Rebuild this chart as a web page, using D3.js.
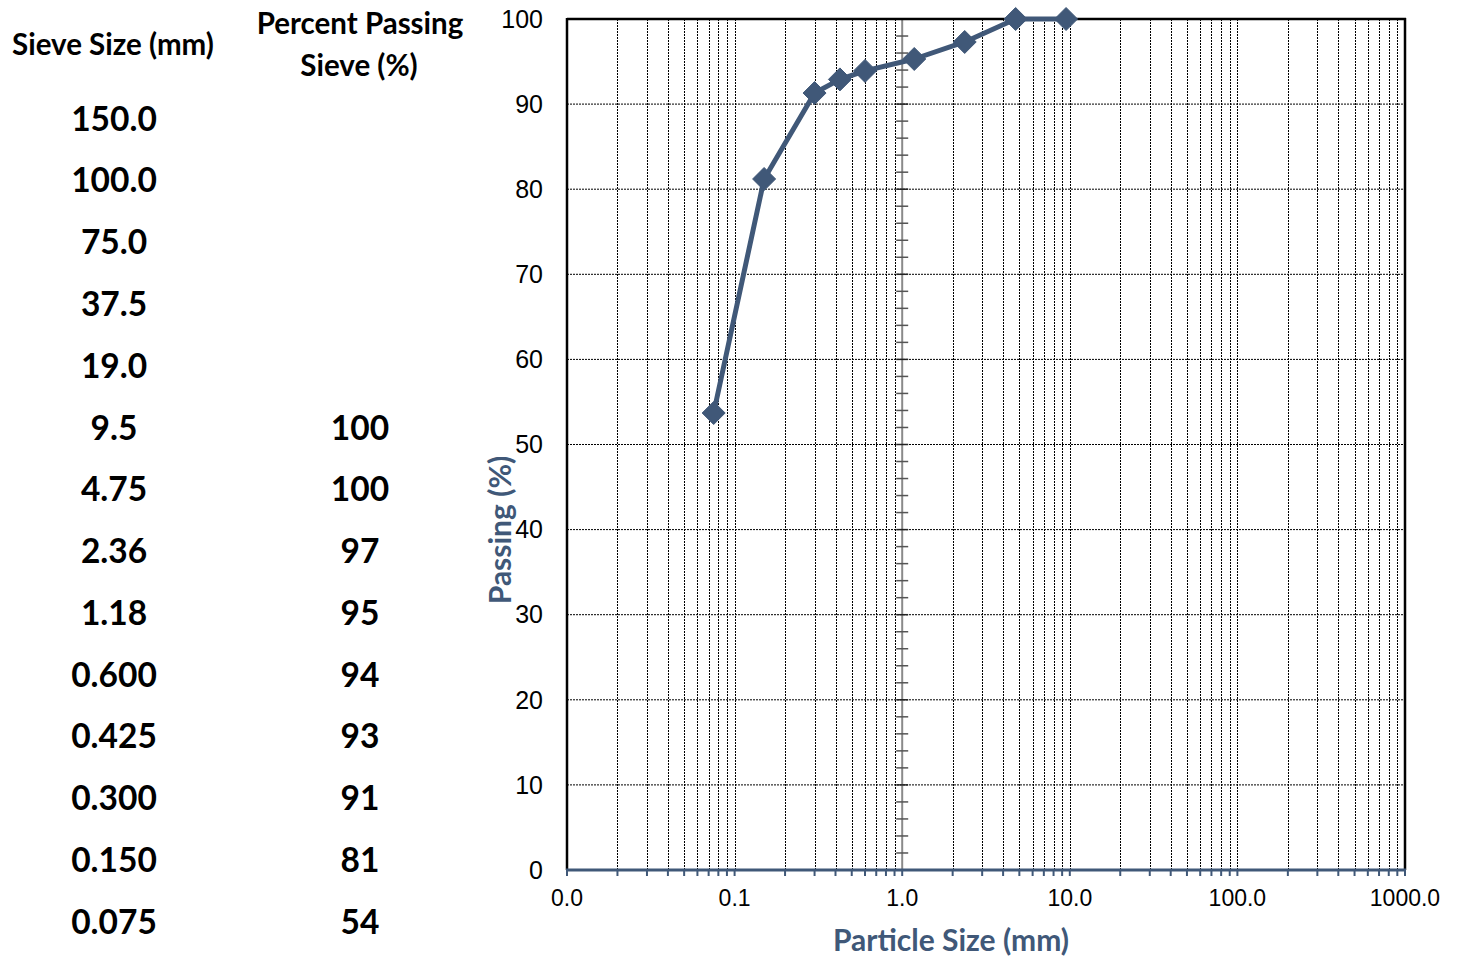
<!DOCTYPE html>
<html>
<head>
<meta charset="utf-8">
<script src="https://cdn.jsdelivr.net/npm/d3@7"></script>
<style>
  body { margin: 0; background: #fff; }
  svg { display: block; }
</style>
</head>
<body>
<div id="drawing"></div>
<script>
// sieve table
var sieveLabels = ["150.0", "100.0", "75.0", "37.5", "19.0", "9.5", "4.75", "2.36", "1.18", "0.600", "0.425", "0.300", "0.150", "0.075"];
var passingLabels = ["", "", "", "", "", "100", "100", "97", "95", "94", "93", "91", "81", "54"];

// plotted gradation curve
var sieveSizes = [9.5, 4.75, 2.36, 1.18, 0.6, 0.425, 0.3, 0.15, 0.075];
var percentPassing = [100, 100, 97.3, 95.3, 93.9, 92.9, 91.3, 81.2, 53.7];

var xTickValues = [0.01, 0.1, 1, 10, 100, 1000];
var xTickLabels = ["0.0", "0.1", "1.0", "10.0", "100.0", "1000.0"];
var yTickValues = [0, 10, 20, 30, 40, 50, 60, 70, 80, 90, 100];

var width = 1462;
var height = 959;
var plot = {left: 567, right: 1405, top: 19, bottom: 870};
var slate = "#405878";

var svg = d3.select("#drawing").append("svg")
  .attr("width", width)
  .attr("height", height);

var xScale = d3.scaleLog()
  .domain([0.01, 1000])
  .range([plot.left, plot.right]);

var yScale = d3.scaleLinear()
  .domain([0, 100])
  .range([plot.bottom, plot.top]);

// minor log positions 2..9 for each decade, plus the decades
var logLines = [];
for (var d = -2; d < 3; d++) {
  for (var m = 1; m < 10; m++) {
    logLines.push(m * Math.pow(10, d));
  }
}
var innerLogLines = logLines.filter(function(v) { return v > 0.0100001; });

// ---- table on the left
var tableFont = "Lato, 'Open Sans', sans-serif";
var table = svg.append("g").attr("font-family", tableFont).attr("font-weight", "bold").attr("fill", "#000");

table.append("text")
  .attr("x", 113).attr("y", 45).attr("dy", "0.35em")
  .attr("text-anchor", "middle").attr("font-size", 29.5)
  .text("Sieve Size (mm)");
table.append("text")
  .attr("x", 360).attr("y", 24).attr("dy", "0.35em")
  .attr("text-anchor", "middle").attr("font-size", 29.5)
  .text("Percent Passing");
table.append("text")
  .attr("x", 359).attr("y", 66).attr("dy", "0.35em")
  .attr("text-anchor", "middle").attr("font-size", 29.5)
  .text("Sieve (%)");

var rowY = d3.scalePoint()
  .domain(d3.range(sieveLabels.length))
  .range([119, 922]);

table.selectAll(".sieve")
  .data(sieveLabels)
  .enter().append("text")
  .attr("class", "sieve")
  .attr("x", 114)
  .attr("y", function(d, i) { return rowY(i); })
  .attr("dy", "0.35em")
  .attr("text-anchor", "middle")
  .attr("font-size", 33.5)
  .text(function(d) { return d; });

table.selectAll(".pass")
  .data(passingLabels)
  .enter().append("text")
  .attr("class", "pass")
  .attr("x", 360)
  .attr("y", function(d, i) { return rowY(i); })
  .attr("dy", "0.35em")
  .attr("text-anchor", "middle")
  .attr("font-size", 33.5)
  .text(function(d) { return d; });

// ---- grid
var grid = svg.append("g");
grid.selectAll(".hgrid")
  .data(yTickValues.filter(function(v) { return v > 0 && v < 100; }))
  .enter().append("line")
  .attr("x1", plot.left).attr("x2", plot.right)
  .attr("y1", function(d) { return yScale(d); })
  .attr("y2", function(d) { return yScale(d); })
  .attr("stroke", "#000")
  .attr("stroke-width", 1)
  .attr("stroke-dasharray", "2,1");

grid.selectAll(".vgrid")
  .data(innerLogLines)
  .enter().append("line")
  .attr("x1", function(d) { return Math.round(xScale(d)) + 0.5; })
  .attr("x2", function(d) { return Math.round(xScale(d)) + 0.5; })
  .attr("y1", plot.top).attr("y2", plot.bottom)
  .attr("stroke", "#000")
  .attr("stroke-width", 1)
  .attr("stroke-dasharray", "2,1");

// vertical axis crossing at 1.0
var yAxisX = xScale(1);
var yAxisG = svg.append("g");
yAxisG.append("line")
  .attr("x1", yAxisX).attr("x2", yAxisX)
  .attr("y1", plot.top).attr("y2", plot.bottom)
  .attr("stroke", "#8a8a8a").attr("stroke-width", 2);
yAxisG.selectAll(".minor")
  .data(d3.range(0, 101, 2))
  .enter().append("line")
  .attr("x1", yAxisX - 6).attr("x2", yAxisX + 6)
  .attr("y1", function(d) { return yScale(d); })
  .attr("y2", function(d) { return yScale(d); })
  .attr("stroke", function(d) { return d % 10 === 0 ? "#222" : "#555"; })
  .attr("stroke-width", 1.5);

// ---- frame
svg.append("line")
  .attr("x1", plot.left).attr("x2", plot.left)
  .attr("y1", plot.top - 1).attr("y2", plot.bottom)
  .attr("stroke", "#000").attr("stroke-width", 2.5);
svg.append("line")
  .attr("x1", plot.left).attr("x2", plot.right + 1)
  .attr("y1", plot.top).attr("y2", plot.top)
  .attr("stroke", "#000").attr("stroke-width", 2.5);
svg.append("line")
  .attr("x1", plot.right).attr("x2", plot.right)
  .attr("y1", plot.top - 1).attr("y2", plot.bottom)
  .attr("stroke", "#000").attr("stroke-width", 2.5);

// x axis (bottom)
var xAxisG = svg.append("g");
xAxisG.selectAll(".xtick")
  .data(logLines.concat([1000]))
  .enter().append("line")
  .attr("x1", function(d) { return xScale(d); })
  .attr("x2", function(d) { return xScale(d); })
  .attr("y1", plot.bottom).attr("y2", plot.bottom + 6)
  .attr("stroke", slate).attr("stroke-width", 2);
xAxisG.append("line")
  .attr("x1", plot.left - 1).attr("x2", plot.right + 1)
  .attr("y1", plot.bottom).attr("y2", plot.bottom)
  .attr("stroke", slate).attr("stroke-width", 3);

var tickFont = "'Liberation Sans', Arial, sans-serif";
xAxisG.selectAll(".xlab")
  .data(xTickValues)
  .enter().append("text")
  .attr("x", function(d) { return xScale(d); })
  .attr("y", 898)
  .attr("dy", "0.35em")
  .attr("text-anchor", "middle")
  .attr("font-family", tickFont)
  .attr("font-size", 23)
  .attr("fill", "#000")
  .text(function(d, i) { return xTickLabels[i]; });

svg.selectAll(".ylab")
  .data(yTickValues)
  .enter().append("text")
  .attr("x", 543)
  .attr("y", function(d) { return yScale(d); })
  .attr("dy", "0.35em")
  .attr("text-anchor", "end")
  .attr("font-family", tickFont)
  .attr("font-size", 25)
  .attr("fill", "#000")
  .text(function(d) { return d; });

// axis titles
svg.append("text")
  .attr("x", 951).attr("y", 940).attr("dy", "0.35em")
  .attr("text-anchor", "middle")
  .attr("font-family", tableFont).attr("font-weight", "bold")
  .attr("font-size", 30).attr("fill", slate)
  .text("Particle Size (mm)");
svg.append("text")
  .attr("transform", "translate(500,530) rotate(-90)")
  .attr("dy", "0.35em")
  .attr("text-anchor", "middle")
  .attr("font-family", tableFont).attr("font-weight", "bold")
  .attr("font-size", 30).attr("fill", slate)
  .text("Passing (%)");

// ---- gradation curve
var curveData = sieveSizes.map(function(s, i) { return {size: s, pass: percentPassing[i]}; });
var line = d3.line()
  .x(function(d) { return xScale(d.size); })
  .y(function(d) { return yScale(d.pass); });

svg.append("path")
  .attr("d", line(curveData))
  .attr("fill", "none")
  .attr("stroke", slate)
  .attr("stroke-width", 5)
  .attr("stroke-linejoin", "round");

svg.selectAll(".marker")
  .data(curveData)
  .enter().append("path")
  .attr("class", "marker")
  .attr("transform", function(d) { return "translate(" + xScale(d.size) + "," + yScale(d.pass) + ")"; })
  .attr("d", "M0,-11.5L11.5,0L0,11.5L-11.5,0Z")
  .attr("fill", slate)
  .attr("stroke", slate)
  .attr("stroke-width", 1)
  .attr("stroke-linejoin", "round");
</script>
</body>
</html>
